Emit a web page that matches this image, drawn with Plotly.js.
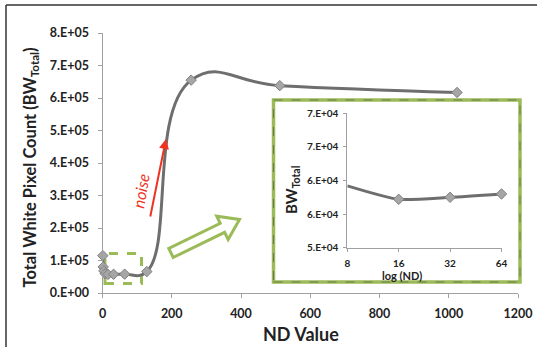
<!DOCTYPE html>
<html><head><meta charset="utf-8">
<script src="https://cdn.plot.ly/plotly-3.0.1.min.js"></script>
<style>html,body{margin:0;padding:0;background:#fff}#c{width:537px;height:347px}</style>
</head><body><div id="c"></div>
<script>
// Main series
var ndValues = [1, 2, 4, 8, 16, 32, 64, 128, 256, 512, 1024];
var bwTotal = [115000, 80000, 68000, 59200, 57200, 57500, 58000, 66000, 655000, 638000, 617000];
// Inset series
var insetND = [8, 16, 32, 64];
var insetBW = [59200, 57200, 57500, 58000];
// Tick labels
var mainXTicks = [0, 200, 400, 600, 800, 1000, 1200];
var mainYTicks = [0, 100000, 200000, 300000, 400000, 500000, 600000, 700000, 800000];
var mainYLabels = ["0.E+00","1.E+05","2.E+05","3.E+05","4.E+05","5.E+05","6.E+05","7.E+05","8.E+05"];
var insetYTicks = [50000, 55000, 60000, 65000, 70000];
var insetYLabels = ["5.E+04","6.E+04","6.E+04","7.E+04","7.E+04"];
var insetXTicks = [8, 16, 32, 64];

var W = 537, H = 347;
function px(x){return x / W;}
function py(y){return 1 - y / H;}
var FONT = "Lato, 'Open Sans', sans-serif";
var green = "#9bbb59";

function arrowPath(tx, ty, hx, hy, sw, hw, hl){
  var dx = hx - tx, dy = hy - ty, L = Math.sqrt(dx*dx + dy*dy);
  var ux = dx / L, uy = dy / L, nx = -uy, ny = ux;
  var bx = hx - ux*hl, by = hy - uy*hl;
  var pts = [
    [tx + nx*sw, ty + ny*sw], [bx + nx*sw, by + ny*sw], [bx + nx*hw, by + ny*hw],
    [hx, hy], [bx - nx*hw, by - ny*hw], [bx - nx*sw, by - ny*sw], [tx - nx*sw, ty - ny*sw]
  ];
  return 'M' + pts.map(function(p){return px(p[0]).toFixed(5) + ',' + py(p[1]).toFixed(5);}).join(' L') + ' Z';
}

var traces = [
  {x: ndValues, y: bwTotal, type: 'scatter', mode: 'lines+markers',
   line: {shape: 'spline', smoothing: 1.3, color: '#6e6e6e', width: 3},
   marker: {symbol: 'diamond', size: 8, color: '#a6a6a6', line: {color: '#7f7f7f', width: 1}},
   cliponaxis: false, xaxis: 'x', yaxis: 'y', hoverinfo: 'skip'},
  {x: insetND, y: insetBW, type: 'scatter', mode: 'lines+markers',
   line: {shape: 'spline', smoothing: 0.6, color: '#6e6e6e', width: 3},
   marker: {symbol: 'diamond', size: 8, color: '#a6a6a6', line: {color: '#7f7f7f', width: 1}},
   cliponaxis: false, xaxis: 'x2', yaxis: 'y2', hoverinfo: 'skip'}
];

var tickFont = {family: FONT, size: 12.5, color: '#222', weight: 'bold'};
var insetTickFont = {family: FONT, size: 10, color: '#222', weight: 'bold'};
var layout = {
  width: W, height: H, showlegend: false,
  margin: {l: 0, r: 0, t: 0, b: 0},
  paper_bgcolor: '#fff', plot_bgcolor: 'rgba(0,0,0,0)',
  xaxis: {domain: [102.5/W, 518/W], range: [0, 1200], tickvals: mainXTicks,
    showgrid: false, zeroline: false, showline: true, linecolor: '#a0a0a0', linewidth: 1,
    ticks: 'outside', ticklen: 4, tickcolor: '#a0a0a0', tickfont: tickFont, ticklabelstandoff: 5, anchor: 'y'},
  yaxis: {domain: [py(293), py(33)], range: [0, 800000], tickvals: mainYTicks, ticktext: mainYLabels,
    showgrid: false, zeroline: false, showline: true, linecolor: '#a0a0a0', linewidth: 1,
    ticks: 'outside', ticklen: 4, tickcolor: '#a0a0a0', tickfont: tickFont, ticklabelstandoff: 6, anchor: 'x'},
  xaxis2: {domain: [347.3/W, 501.5/W], type: 'log', range: [Math.log10(8), Math.log10(64)],
    tickvals: insetXTicks, ticktext: insetXTicks.map(String),
    showgrid: false, zeroline: false, showline: true, linecolor: '#a0a0a0', linewidth: 1,
    ticks: 'outside', ticklen: 3, tickcolor: '#a0a0a0', tickfont: insetTickFont, ticklabelstandoff: 3, anchor: 'y2'},
  yaxis2: {domain: [py(247.7), py(113.3)], range: [50000, 70000], tickvals: insetYTicks, ticktext: insetYLabels,
    showgrid: false, zeroline: false, showline: true, linecolor: '#a0a0a0', linewidth: 1,
    ticks: 'outside', ticklen: 3, tickcolor: '#a0a0a0', tickfont: insetTickFont, ticklabelstandoff: 3, anchor: 'x2'},
  shapes: [
    {type: 'line', xref: 'paper', yref: 'paper', x0: px(6), x1: 1.02, y0: py(5), y1: py(5), line: {color: '#333', width: 1.5}},
    {type: 'line', xref: 'paper', yref: 'paper', x0: px(6), x1: px(6), y0: py(5), y1: -0.02, line: {color: '#333', width: 1.5}},
    {type: 'rect', xref: 'paper', yref: 'paper', x0: px(273.5), x1: px(520), y0: py(282), y1: py(100),
     line: {color: green, width: 3.5}, layer: 'below'},
    {type: 'rect', xref: 'paper', yref: 'paper', x0: px(273.5), x1: px(520), y0: py(282), y1: py(100),
     line: {color: '#6b7a4a', width: 1, dash: 'dash'}, layer: 'below'},
    {type: 'rect', xref: 'paper', yref: 'paper', x0: px(105), x1: px(141.5), y0: py(283.5), y1: py(253.5),
     line: {color: green, width: 3, dash: 'dash'}, layer: 'below'},
    {type: 'path', xref: 'paper', yref: 'paper', path: arrowPath(171, 253, 239.5, 219.5, 5, 13, 19),
     line: {color: green, width: 3}, fillcolor: 'rgba(0,0,0,0)'}
  ],
  annotations: [
    {xref: 'paper', yref: 'paper', x: px(17), y: py(168), text: 'Total White Pixel Count (BW<sub>Total</sub>)',
     showarrow: false, textangle: -90, font: {family: FONT, size: 16.5, color: '#222', weight: 'bold'}},
    {xref: 'paper', yref: 'paper', x: px(301), y: py(334), yanchor: 'middle', text: 'ND Value',
     showarrow: false, font: {family: FONT, size: 18, color: '#222', weight: 'bold'}},
    {xref: 'paper', yref: 'paper', x: px(292), y: py(190), text: 'BW<sub>Total</sub>',
     showarrow: false, textangle: -90, font: {family: FONT, size: 15, color: '#222', weight: 'bold'}},
    {xref: 'paper', yref: 'paper', x: px(424), y: py(275), yanchor: 'middle', text: 'log (ND)',
     showarrow: false, font: {family: FONT, size: 11, color: '#222', weight: 'bold'}},
    {xref: 'paper', yref: 'paper', x: px(166), y: py(139), ax: -16, ay: 79, text: '',
     showarrow: true, arrowhead: 2, arrowsize: 1, arrowwidth: 2, arrowcolor: '#ee3322'},
    {xref: 'paper', yref: 'paper', x: px(140), y: py(191), xanchor: 'center', yanchor: 'middle', text: 'noise',
     showarrow: false, textangle: -80, font: {family: FONT, size: 16, color: '#ee3322', style: 'italic'}}
  ]
};
Plotly.newPlot('c', traces, layout, {staticPlot: true, displayModeBar: false});
</script></body></html>
